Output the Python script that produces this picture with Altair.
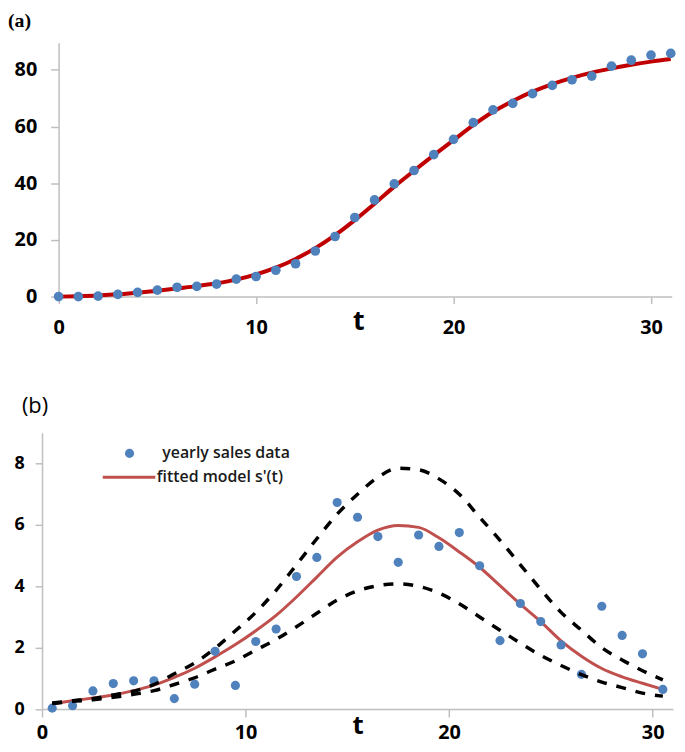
import altair as alt
import pandas as pd

# ---------------- data: panel (a) cumulative sales ----------------
t_a = list(range(32))
sales_a = [0.0, 0.0, 0.2, 0.8, 1.5, 2.3, 3.3, 3.6, 4.4, 6.2, 7.1, 9.3, 11.6, 16.1, 21.2, 27.9,
           34.1, 39.8, 44.5, 50.1, 55.5, 61.4, 65.9, 68.2, 71.6, 74.5, 76.5, 77.8, 81.3, 83.4,
           85.2, 85.8]
fit_a = [0.0, 0.15, 0.4, 0.8, 1.4, 2.1, 2.9, 3.7, 4.7, 6.0, 7.8, 10.2, 13.3, 17.1, 21.7, 27.0,
         32.8, 38.8, 44.4, 49.9, 55.2, 60.5, 65.2, 69.0, 72.3, 75.0, 77.2, 79.0, 80.5, 81.8,
         82.9, 83.8]

# ---------------- data: panel (b) yearly sales ----------------
t_b = [i + 0.5 for i in range(31)]
sales_b = [0.03, 0.11, 0.59, 0.83, 0.92, 0.92, 0.34, 0.81, 1.88, 0.77, 2.20, 2.61, 4.32, 4.94,
           6.73, 6.25, 5.62, 4.78, 5.67, 5.30, 5.75, 4.67, 2.23, 3.44, 2.85, 2.09, 1.13, 3.35,
           2.40, 1.80, 0.64]
fit_b = [0.17, 0.27, 0.36, 0.46, 0.60, 0.78, 1.03, 1.33, 1.70, 2.10, 2.55, 3.05, 3.65, 4.30,
         4.95, 5.45, 5.83, 5.98, 5.92, 5.58, 5.12, 4.62, 4.02, 3.42, 2.85, 2.22, 1.72, 1.32,
         1.05, 0.84, 0.64]
upper_b = [0.20, 0.27, 0.34, 0.46, 0.58, 0.80, 1.15, 1.50, 1.98, 2.55, 3.15, 3.87, 4.70, 5.55,
           6.35, 7.00, 7.55, 7.85, 7.80, 7.50, 7.00, 6.25, 5.50, 4.70, 3.90, 3.15, 2.57, 2.00,
           1.60, 1.25, 0.95]
lower_b = [0.18, 0.25, 0.30, 0.38, 0.48, 0.60, 0.80, 1.02, 1.30, 1.57, 1.92, 2.27, 2.68, 3.12,
           3.55, 3.85, 4.02, 4.08, 4.00, 3.78, 3.43, 3.00, 2.57, 2.15, 1.75, 1.42, 1.12, 0.88,
           0.70, 0.52, 0.42]

a_xticks = [0, 10, 20, 30]
a_yticks = [0, 20, 40, 60, 80]
b_xticks = [0, 10, 20, 30]
b_yticks = [0, 2, 4, 6, 8]
legend_labels = ["yearly sales data", "fitted model s'(t)"]

BLUE = "#4F81BD"
GRAY = "#BFBFBF"
FONT = "Open Sans"

# one shared view; each panel gets its own pixel range inside it
VIEW_W, VIEW_H = 636, 671.7
A_X_RANGE, A_Y_RANGE = [16.7, 634.7], [256, 0]
B_X_RANGE, B_Y_RANGE = [0, 636], [671.7, 393.3]


def mk_axis(values, tick, size, pad, **kw):
    return alt.Axis(values=values, grid=False, domainColor=GRAY, domainWidth=1.5,
                    tickColor=GRAY, tickWidth=1.5, tickSize=tick, labelColor="black",
                    labelFont=FONT, labelFontWeight="bold", labelFontSize=size,
                    labelPadding=pad, labelFlush=False, **kw)


title_kw = dict(titleFont=FONT, titleFontWeight="bold", titleColor="black",
                titleBaseline="alphabetic", titleAlign="center", titleAngle=0)

# ---------------- panel (a) ----------------
df_a = pd.DataFrame({"t": t_a, "sales": sales_a, "fit": fit_a})
xa_axis = mk_axis(a_xticks, 7, 20, 14, orient="bottom", offset=-(VIEW_H - 256), title="t",
                  titleX=318.7, titleY=33, titleFontSize=27, **title_kw)
ya_axis = mk_axis(a_yticks, 8, 20, 14, orient="left", offset=-16.7, title=None)
xa = alt.X("t:Q", scale=alt.Scale(domain=[0, 31.05], range=A_X_RANGE, nice=False),
           axis=xa_axis)
ya_scale = alt.Scale(domain=[0, 89.6], range=A_Y_RANGE, nice=False)

base_a = alt.Chart(df_a)
line_a = base_a.mark_line(color="#C00000", strokeWidth=4, interpolate="monotone").encode(
    x=xa, y=alt.Y("fit:Q", scale=ya_scale, axis=ya_axis))
pts_a = base_a.mark_circle(size=95, color=BLUE, opacity=1).encode(
    x=xa, y=alt.Y("sales:Q", scale=ya_scale, axis=ya_axis))
top = alt.layer(line_a, pts_a)

# ---------------- panel (b) ----------------
df_b = pd.DataFrame({"t": t_b, "sales": sales_b, "fit": fit_b, "upper": upper_b,
                     "lower": lower_b, "series": legend_labels[0], "model": legend_labels[1]})
xb_axis = mk_axis(b_xticks, 8, 20, 5.3, orient="bottom", title="t", titleX=318,
                  titleY=24.5, titleFontSize=26, **title_kw)
yb_axis = mk_axis(b_yticks, 7, 18, 11, orient="left", title=None)
xb = alt.X("t:Q", scale=alt.Scale(domain=[0, 31.0], range=B_X_RANGE, nice=False),
           axis=xb_axis)
yb_scale = alt.Scale(domain=[0, 9], range=B_Y_RANGE, nice=False)

leg_kw = dict(orient="none", padding=0, offset=0, labelFont=FONT, labelFontSize=16,
              labelFontWeight=600, labelColor="#1a1a1a")
base_b = alt.Chart(df_b)
fit_line = base_b.mark_line(strokeWidth=3, interpolate="monotone").encode(
    x=xb, y=alt.Y("fit:Q", scale=yb_scale, axis=yb_axis),
    stroke=alt.Stroke("model:N", title=None,
                      scale=alt.Scale(domain=[legend_labels[1]], range=["#C0504D"]),
                      legend=alt.Legend(legendX=59.7, legendY=410, symbolType="stroke",
                                        symbolSize=2809, symbolStrokeWidth=3, labelOffset=0,
                                        **leg_kw)))
pts_b = base_b.mark_circle(size=85, opacity=1).encode(
    x=xb, y=alt.Y("sales:Q", scale=yb_scale, axis=yb_axis),
    fill=alt.Fill("series:N", title=None,
                  scale=alt.Scale(domain=[legend_labels[0]], range=[BLUE]),
                  legend=alt.Legend(legendX=80.2, legendY=406, symbolType="circle",
                                    symbolSize=85, labelOffset=25, **leg_kw)))
up_line = base_b.mark_line(color="black", strokeWidth=3.5, strokeDash=[10, 10],
                           interpolate="monotone").encode(
    x=xb, y=alt.Y("upper:Q", scale=yb_scale, axis=yb_axis))
lo_line = base_b.mark_line(color="black", strokeWidth=3.5, strokeDash=[10, 10],
                           interpolate="monotone").encode(
    x=xb, y=alt.Y("lower:Q", scale=yb_scale, axis=yb_axis))
bottom = alt.layer(fit_line, pts_b, up_line, lo_line)

# ---------------- panel letters ----------------
lab_a = alt.Chart(pd.DataFrame({"lab": ["(a)"]})).mark_text(
    align="left", baseline="top", font="Liberation Serif", fontSize=20, fontWeight="bold",
    color="black").encode(x=alt.value(-34.3), y=alt.value(-31.5), text="lab:N")
lab_b = alt.Chart(pd.DataFrame({"lab": ["(b)"]})).mark_text(
    align="left", baseline="top", font=FONT, fontSize=22, color="black").encode(
    x=alt.value(-20.3), y=alt.value(356), text="lab:N")

chart = alt.layer(top, bottom, lab_a, lab_b).resolve_scale(
    x="independent", y="independent").properties(
    width=VIEW_W, height=VIEW_H,
    autosize=alt.AutoSizeParams(type="none"),
    padding={"left": 34.3, "top": 32, "right": 4, "bottom": 32},
).configure_view(strokeWidth=0)

chart.save("out.html", embed_options={"renderer": "svg", "actions": False})
